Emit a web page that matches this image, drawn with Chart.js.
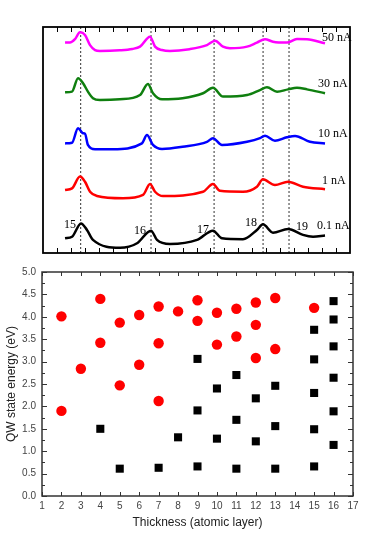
<!DOCTYPE html>
<html>
<head>
<meta charset="utf-8">
<script src="https://cdn.jsdelivr.net/npm/chart.js@4.4.1/dist/chart.umd.min.js"></script>
<style>
  html, body { margin: 0; padding: 0; background: #fff; }
  #wrap { position: relative; width: 372px; height: 539px; }
  canvas { position: absolute; left: 0; }
  #spectra { top: 0; }
  #energy { top: 260px; }
</style>
</head>
<body>
<div id="wrap">
  <canvas id="spectra" width="372" height="260"></canvas>
  <canvas id="energy" width="372" height="279"></canvas>
</div>
<script>
// spectra (arbitrary units), one trace per tunnelling current
const x50nA = [1.58, 1.93, 2.29, 2.65, 3.01, 3.37, 3.73, 4.08, 5.5, 6.4, 6.95, 7.67, 8.03, 8.53, 9.10, 10.5, 11.75, 12.33, 12.90, 13.40, 14.62, 15.33, 15.91, 16.48, 17.48, 18.20, 18.92, 20.21];
const y50nA = [9.31, 9.31, 9.46, 9.77, 9.65, 9.20, 8.98, 8.94, 8.97, 9.03, 9.13, 9.57, 9.13, 8.98, 8.94, 9.02, 9.20, 9.39, 9.13, 9.06, 9.13, 9.31, 9.46, 9.35, 9.31, 9.47, 9.46, 9.28];

const x30nA = [1.58, 2.08, 2.51, 2.87, 3.22, 3.58, 4.08, 5.5, 6.95, 7.52, 7.88, 8.53, 10.0, 11.47, 12.18, 12.90, 14.62, 15.55, 16.05, 16.77, 17.56, 18.20, 18.92, 20.21];
const y30nA = [7.11, 7.14, 7.73, 7.51, 7.14, 6.85, 6.77, 6.80, 6.99, 7.48, 7.07, 6.80, 6.85, 7.07, 7.31, 6.92, 6.99, 7.21, 7.33, 7.14, 7.24, 7.31, 7.24, 7.07];

const x10nA = [1.58, 2.08, 2.51, 2.87, 3.01, 3.22, 3.73, 5.02, 7.09, 7.45, 7.88, 8.53, 10.0, 11.75, 12.18, 12.83, 14.62, 15.55, 15.91, 16.62, 17.48, 18.06, 19.13, 20.21];
const y10nA = [4.85, 4.88, 5.52, 5.30, 5.28, 4.78, 4.59, 4.59, 4.85, 5.22, 4.78, 4.60, 4.70, 4.92, 5.08, 4.78, 4.92, 5.08, 5.19, 4.97, 5.12, 5.18, 4.92, 4.85];

const x1nA = [1.58, 2.08, 2.65, 3.01, 3.37, 3.87, 5.73, 7.17, 7.67, 8.03, 8.60, 11.47, 12.18, 12.68, 14.33, 15.33, 15.76, 16.62, 17.56, 18.63, 20.21];
const y1nA = [2.79, 2.86, 3.38, 3.15, 2.71, 2.52, 2.42, 2.57, 3.05, 2.71, 2.52, 2.71, 3.05, 2.75, 2.71, 2.93, 3.26, 3.01, 3.15, 2.93, 2.82];

const x01nA = [1.58, 2.08, 2.72, 3.15, 3.58, 5.52, 6.74, 7.74, 8.17, 9.10, 11.04, 12.18, 12.83, 14.33, 15.33, 15.76, 16.48, 17.56, 18.63, 19.35, 20.21];
const y01nA = [0.65, 0.72, 1.31, 1.02, 0.58, 0.23, 0.43, 0.99, 0.58, 0.40, 0.58, 0.99, 0.65, 0.61, 1.02, 1.27, 0.90, 1.06, 0.80, 0.72, 0.77];

const peakPositions = [2.70, 7.74, 12.26, 15.77, 17.63];
const peakLabels = ['15', '16', '17', '18', '19'];
const currentLabels = ['50 nA', '30 nA', '10 nA', '1 nA', '0.1 nA'];

// QW state energies vs thickness
const redThickness = [2, 2, 3, 4, 4, 5, 5, 6, 6, 7, 7, 7, 8, 9, 9, 10, 10, 11, 11, 12, 12, 12, 13, 13, 15];
const redEnergy = [4.01, 1.90, 2.84, 4.40, 3.42, 3.87, 2.47, 4.04, 2.93, 4.23, 3.41, 2.12, 4.12, 4.37, 3.91, 4.09, 3.38, 4.18, 3.56, 4.32, 3.82, 3.08, 4.42, 3.28, 4.20];
const blackThickness = [4, 5, 7, 8, 9, 9, 9, 10, 10, 11, 11, 11, 12, 12, 13, 13, 13, 15, 15, 15, 15, 15, 16, 16, 16, 16, 16, 16];
const blackEnergy = [1.50, 0.61, 0.63, 1.31, 3.06, 1.91, 0.66, 2.40, 1.28, 2.70, 1.70, 0.61, 2.18, 1.22, 2.46, 1.56, 0.61, 3.71, 3.05, 2.30, 1.49, 0.66, 4.35, 3.94, 3.34, 2.64, 1.89, 1.14];

const thicknessTicks = [1, 2, 3, 4, 5, 6, 7, 8, 9, 10, 11, 12, 13, 14, 15, 16, 17];

const toPoints = (xs, ys) => xs.map((x, i) => ({ x, y: ys[i] }));

// box + inward ticks
const framePlugin = {
    id: 'frame',
    afterDraw(chart, args, opts) {
        const { ctx, chartArea: a, scales } = chart;
        ctx.save();
        ctx.strokeStyle = opts.color;
        ctx.lineWidth = 1;
        ctx.beginPath();
        (opts.xTicks || []).forEach(v => {
            const px = Math.round(scales.x.getPixelForValue(v)) + 0.5;
            ctx.moveTo(px, a.top); ctx.lineTo(px, a.top + opts.xLen);
            ctx.moveTo(px, a.bottom); ctx.lineTo(px, a.bottom - opts.xLen);
        });
        (opts.yTicks || []).forEach(t => {
            const py = Math.round(scales.y.getPixelForValue(t.v)) + 0.5;
            ctx.moveTo(a.left, py); ctx.lineTo(a.left + t.len, py);
            ctx.moveTo(a.right, py); ctx.lineTo(a.right - t.len, py);
        });
        ctx.stroke();
        ctx.lineWidth = opts.width;
        ctx.strokeRect(a.left, a.top, a.right - a.left, a.bottom - a.top);
        ctx.restore();
    }
};

// text labels on the spectra panel
const labelPlugin = {
    id: 'labels',
    afterDraw(chart) {
        const ctx = chart.ctx;
        ctx.save();
        ctx.fillStyle = '#000';
        ctx.font = '12px "Liberation Serif", serif';
        ctx.textBaseline = 'alphabetic';
        const currentPos = [[322, 41], [318, 87], [318, 137], [322, 184], [317, 229]];
        currentLabels.forEach((t, i) => ctx.fillText(t, currentPos[i][0], currentPos[i][1]));
        const peakPos = [[64, 228], [134, 234], [197, 233], [245, 226], [296, 230]];
        peakLabels.forEach((t, i) => ctx.fillText(t, peakPos[i][0], peakPos[i][1]));
        ctx.restore();
    }
};

const traces = [
    [x50nA, y50nA, '#ff00ff'],
    [x30nA, y30nA, '#0f7f0f'],
    [x10nA, y10nA, '#0000ff'],
    [x1nA, y1nA, '#ff0000'],
    [x01nA, y01nA, '#000000']
];

const spectraSets = traces.map(([xs, ys, c]) => ({
    data: toPoints(xs, ys),
    borderColor: c,
    borderWidth: 2.5,
    pointRadius: 0,
    cubicInterpolationMode: 'monotone',
    order: 1
}));
peakPositions.forEach(p => spectraSets.push({
    data: [{ x: p, y: 0 }, { x: p, y: 10 }],
    borderColor: '#333',
    borderWidth: 1,
    borderDash: [2, 2],
    pointRadius: 0,
    order: 2
}));

new Chart(document.getElementById('spectra'), {
    type: 'line',
    data: { datasets: spectraSets },
    options: {
        responsive: false,
        animation: false,
        layout: { padding: { left: 43, top: 27, right: 22, bottom: 7 } },
        scales: {
            x: { type: 'linear', min: 0, max: 22, display: false },
            y: { min: 0, max: 10, display: false }
        },
        plugins: {
            legend: { display: false },
            tooltip: { enabled: false },
            frame: { color: '#000', width: 1.8, xLen: 5, xTicks: Array.from({ length: 21 }, (_, i) => i + 1) }
        }
    },
    plugins: [framePlugin, labelPlugin]
});

const energyTicks = [];
for (let i = 0; i <= 20; i++) energyTicks.push({ v: i * 0.25, len: i % 2 === 0 ? 5 : 3 });

new Chart(document.getElementById('energy'), {
    type: 'scatter',
    data: {
        datasets: [
            {
                data: toPoints(redThickness, redEnergy),
                backgroundColor: '#ff0000',
                borderColor: '#ff0000',
                pointStyle: 'circle',
                pointRadius: 5.2,
                borderWidth: 0
            },
            {
                data: toPoints(blackThickness, blackEnergy),
                backgroundColor: '#000',
                borderColor: '#000',
                pointStyle: 'rect',
                pointRadius: 5.7,
                borderWidth: 0
            }
        ]
    },
    options: {
        responsive: false,
        animation: false,
        layout: { padding: { left: 0, top: 8, right: 19, bottom: 0 } },
        scales: {
            x: {
                type: 'linear', min: 1, max: 17,
                afterFit: s => { s.height = 43; },
                afterBuildTicks: s => { s.ticks = thicknessTicks.map(v => ({ value: v })); },
                grid: { display: false, drawTicks: false },
                border: { display: false },
                ticks: { padding: 4, color: '#444', font: { family: '"Liberation Sans", Arial', size: 10 }, maxRotation: 0, autoSkip: false },
                title: { display: true, text: 'Thickness (atomic layer)', color: '#222', padding: { top: 0, bottom: 9 }, font: { family: '"Liberation Sans", Arial', size: 12 } }
            },
            y: {
                min: 0, max: 5,
                afterFit: s => { s.width = 42; },
                grid: { display: false, drawTicks: false },
                border: { display: false },
                ticks: { stepSize: 0.5, padding: 6, color: '#444', font: { family: '"Liberation Sans", Arial', size: 10 }, callback: v => v.toFixed(1) },
                title: { display: true, text: 'QW state energy (eV)', color: '#222', padding: { top: 4, bottom: 0 }, font: { family: '"Liberation Sans", Arial', size: 12 } }
            }
        },
        plugins: {
            legend: { display: false },
            tooltip: { enabled: false },
            frame: { color: '#333', width: 1.5, xLen: 4, xTicks: thicknessTicks, yTicks: energyTicks }
        }
    },
    plugins: [framePlugin]
});
</script>
</body>
</html>
